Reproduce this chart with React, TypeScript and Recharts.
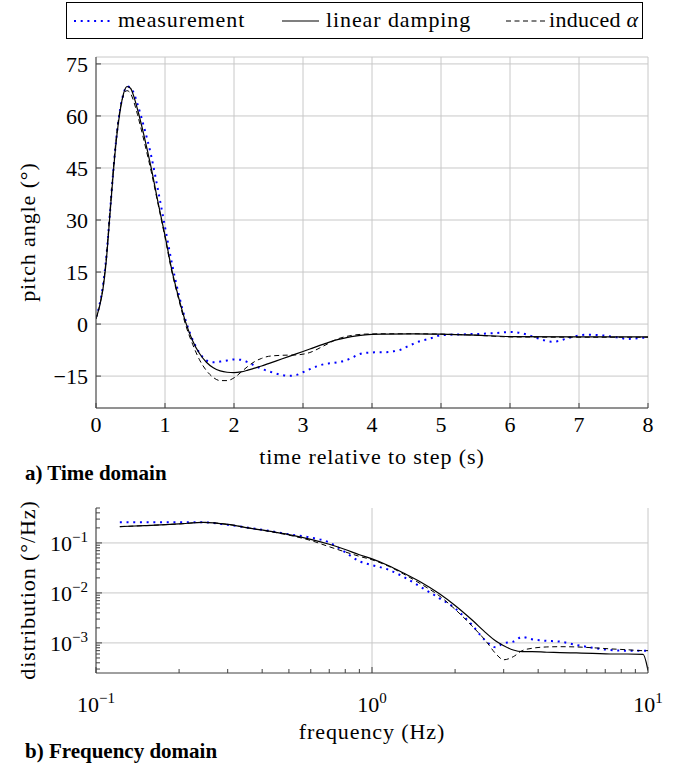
import React from "react";
import { LineChart, Line, XAxis, YAxis, CartesianGrid } from "recharts";

const FONT = '"Liberation Serif", "Times New Roman", serif';
const FRAME = "#404040";
const GRID = "#c8c8c8";
const BLUE = "#0000ff";

// a) time domain
const timeTicks = [0, 1, 2, 3, 4, 5, 6, 7, 8];
const pitchTicks = [-15, 0, 15, 30, 45, 60, 75];

const measTime = [
  0, 0.05, 0.1, 0.15, 0.2, 0.25, 0.3, 0.35, 0.4, 0.45, 0.5, 0.55, 0.6,
  0.7, 0.8, 0.9, 1.0, 1.1, 1.2, 1.3, 1.4, 1.5, 1.6, 1.7, 1.8, 1.9, 2.0,
  2.1, 2.2, 2.3, 2.4, 2.5, 2.6, 2.7, 2.8, 2.9, 3.0, 3.1, 3.2, 3.3, 3.4,
  3.5, 3.6, 3.7, 3.8, 3.9, 4.0, 4.1, 4.2, 4.3, 4.4, 4.5, 4.6, 4.7, 4.8,
  4.9, 5.0, 5.1, 5.2, 5.3, 5.4, 5.5, 5.6, 5.7, 5.8, 5.9, 6.0, 6.1, 6.2,
  6.3, 6.4, 6.5, 6.6, 6.7, 6.8, 6.9, 7.0, 7.1, 7.2, 7.3, 7.4, 7.5, 7.6,
  7.7, 7.8, 7.9, 8.0,
];
const measPitch = [
  2, 5.5, 11, 19.5, 31.5, 44, 54.5, 62, 66.5, 68.5, 68.2, 66.5, 63.5,
  56.5, 48.5, 38.5, 28, 17.5, 8.5, 1, -4.5, -8.3, -10.5, -11, -10.8, -10.5, -10.2,
  -10.3, -11.0, -12.0, -12.9, -13.6, -14.2, -14.7, -14.9, -14.7, -13.9, -13.0, -12.2, -11.6, -11.3,
  -11.0, -10.6, -9.8, -8.8, -8.3, -8.2, -8.1, -8.1, -7.9, -7.5, -6.6, -5.7, -4.9, -4.4,
  -3.8, -3.2, -3.1, -3.0, -3.0, -2.9, -2.9, -2.8, -2.7, -2.6, -2.4, -2.3, -2.4, -2.8,
  -3.4, -4.1, -4.7, -5.1, -4.9, -4.3, -3.7, -3.3, -3.1, -3.1, -3.2, -3.4, -3.7, -4.0,
  -4.3, -4.2, -4.0, -3.9,
];

const modelTime = [
  0, 0.05, 0.1, 0.15, 0.2, 0.25, 0.3, 0.35, 0.4, 0.45, 0.5, 0.55, 0.6,
  0.7, 0.8, 0.9, 1.0, 1.1, 1.2, 1.3, 1.4, 1.5, 1.6, 1.7, 1.8, 1.9, 2.0,
  2.1, 2.2, 2.3, 2.4, 2.5, 2.7, 2.9, 3.1, 3.3, 3.5, 3.7, 3.9,
  4.2, 4.6, 5.0, 5.5, 6.0, 7.0, 8.0,
];
const linearPitch = [
  1.5, 5, 10, 18.5, 31, 43.5, 54, 61.5, 66.5, 68.5, 68, 65.5, 62,
  54, 45, 35, 25.5, 15.5, 7.5, 0.5, -4.8, -8.5, -11, -12.6, -13.5, -13.9, -14.0,
  -13.8, -13.3, -12.7, -12.1, -11.4, -10.0, -8.6, -7.2, -5.8, -4.5, -3.6, -3.1,
  -2.9, -2.8, -2.9, -3.2, -3.6, -3.7, -3.7,
];
const inducedPitch = [
  1.5, 5, 10.5, 19.5, 32, 44.5, 55, 62, 66, 67.3, 66.5, 64, 60.5,
  52.5, 44, 34.5, 25, 15, 7, -0.3, -5.8, -10.3, -13.4, -15.4, -16.3, -16.3, -15.5,
  -13.9, -12.2, -10.8, -9.9, -9.3, -9.0, -8.9, -8.2, -6.3, -4.3, -3.3, -2.9,
  -2.8, -2.8, -2.9, -3.2, -3.7, -3.8, -3.8,
];

// b) frequency domain
const freqMajor = [0.1, 1, 10];
const freqMinor = [0.2, 0.3, 0.4, 0.5, 0.6, 0.7, 0.8, 0.9, 2, 3, 4, 5, 6, 7, 8, 9];
const distMajor = [0.001, 0.01, 0.1];
const distMinor = [
  0.0003, 0.0004, 0.0005, 0.0006, 0.0007, 0.0008, 0.0009,
  0.002, 0.003, 0.004, 0.005, 0.006, 0.007, 0.008, 0.009,
  0.02, 0.03, 0.04, 0.05, 0.06, 0.07, 0.08, 0.09,
  0.2, 0.3, 0.4, 0.5,
];

const freq = [
  0.122, 0.15, 0.2, 0.245, 0.3, 0.36, 0.43, 0.5, 0.6, 0.7, 0.8, 0.9, 1.0,
  1.15, 1.3, 1.5, 1.75, 2.0, 2.3, 2.6, 2.8, 3.0, 3.25, 3.5, 3.8, 4.3, 4.8,
  5.5, 6.3, 7.3, 8.4, 9.6, 10,
];
const measDist = [
  0.26, 0.26, 0.26, 0.258, 0.23, 0.2, 0.172, 0.148, 0.128, 0.102, 0.065, 0.043, 0.036,
  0.029, 0.021, 0.0132, 0.0079, 0.0049, 0.0023, 0.00106, 0.00082, 0.00099, 0.00106, 0.00132, 0.00118, 0.0011, 0.00106,
  0.00091, 0.0008, 0.00072, 0.0007, 0.0007, 0.0007,
];
const linearDist = [
  0.212, 0.222, 0.24, 0.258, 0.235, 0.198, 0.17, 0.147, 0.118, 0.094, 0.074, 0.058, 0.048,
  0.035, 0.025, 0.0165, 0.0097, 0.0056, 0.0029, 0.00155, 0.0011, 0.00088, 0.00072, 0.00067, 0.00067, 0.00065, 0.00064,
  0.00063, 0.00062, 0.0006, 0.0006, 0.00059, 0.00028,
];
const inducedDist = [
  0.212, 0.222, 0.24, 0.258, 0.235, 0.198, 0.168, 0.143, 0.112, 0.084, 0.066, 0.054, 0.046,
  0.034, 0.024, 0.0152, 0.0088, 0.0047, 0.0022, 0.00105, 0.00062, 0.00046, 0.00053, 0.0007, 0.00078, 0.00083, 0.00084,
  0.00083, 0.0008, 0.00076, 0.00073, 0.0007, 0.0007,
];

const zip = (xs: number[], ys: number[]) => xs.map((x, i) => ({ x, y: ys[i] }));

const isDecade = (v: number) => Math.abs(Math.log10(v) - Math.round(Math.log10(v))) < 1e-6;
const expText = (v: number) => {
  const e = Math.round(Math.log10(v));
  return e < 0 ? `\u2212${-e}` : `${e}`;
};

function LogTick(props: any) {
  const { x, y, payload, side } = props;
  const v = payload.value;
  const major = isDecade(v);
  const len = major ? 6 : 4;
  let mark;
  if (side === "bottom") mark = <line x1={x} x2={x} y1={y} y2={y - len} stroke={FRAME} />;
  else if (side === "top") mark = <line x1={x} x2={x} y1={y} y2={y + len} stroke={FRAME} />;
  else if (side === "left") mark = <line x1={x} x2={x + len} y1={y} y2={y} stroke={FRAME} />;
  else mark = <line x1={x} x2={x - len} y1={y} y2={y} stroke={FRAME} />;
  let label = null;
  if (major && side === "bottom") {
    label = (
      <text x={x} y={y + 39} textAnchor="middle" fontFamily={FONT} fontSize={22} fill="#000">
        10<tspan dy={-9} fontSize={15}>{expText(v)}</tspan>
      </text>
    );
  } else if (major && side === "left") {
    label = (
      <text x={x - 8} y={y + 8} textAnchor="end" fontFamily={FONT} fontSize={22} fill="#000">
        10<tspan dy={-9} fontSize={15}>{expText(v)}</tspan>
      </text>
    );
  }
  return (
    <g>
      {mark}
      {label}
    </g>
  );
}

const tickStyle = { fill: "#000", fontSize: 22, fontFamily: FONT };

export default function App() {
  const freqTicks = [...freqMajor, ...freqMinor].sort((a, b) => a - b);
  const distTicks = [...distMajor, ...distMinor].sort((a, b) => a - b);

  return (
    <div style={{ position: "absolute", left: 0, top: 0, width: 680, height: 767, background: "#fff", fontFamily: FONT }}>
      {/* legend */}
      <div
        style={{
          position: "absolute", left: 66, top: 2, width: 577, height: 37,
          boxSizing: "border-box", border: "1px solid #000", fontSize: 22, letterSpacing: 0.9,
          whiteSpace: "nowrap",
        }}
      >
        <svg style={{ position: "absolute", left: 6, top: 0 }} width={40} height={36}>
          <line x1={1} x2={38} y1={18} y2={18} stroke={BLUE} strokeWidth={2} strokeDasharray="2 4.7" />
        </svg>
        <span style={{ position: "absolute", left: 51, top: 4 }}>measurement</span>
        <svg style={{ position: "absolute", left: 214, top: 0 }} width={40} height={36}>
          <line x1={1} x2={38} y1={18} y2={18} stroke="#000" strokeWidth={1.2} />
        </svg>
        <span style={{ position: "absolute", left: 259, top: 4 }}>linear damping</span>
        <svg style={{ position: "absolute", left: 438, top: 0 }} width={42} height={36}>
          <line x1={1} x2={40} y1={18} y2={18} stroke="#000" strokeWidth={1} strokeDasharray="5 3.5" />
        </svg>
        <span style={{ position: "absolute", left: 482, top: 4, letterSpacing: 0.3 }}>
          induced <i>α</i>
        </span>
      </div>

      {/* a) time domain */}
      <div style={{ position: "absolute", left: 0, top: 0 }}>
        <LineChart width={680} height={470} margin={{ top: 57, right: 32, bottom: 32, left: 36 }}>
          <CartesianGrid stroke={GRID} strokeWidth={1} />
          <XAxis
            dataKey="x" type="number" domain={[0, 8]} ticks={timeTicks} allowDataOverflow interval={0}
            height={30} tickSize={-5} tickMargin={13} tick={tickStyle}
            axisLine={{ stroke: FRAME }} tickLine={{ stroke: FRAME }}
            label={{
              content: () => (
                <text x={372} y={464} textAnchor="middle" fontFamily={FONT} fontSize={22} letterSpacing={0.9} fill="#000">
                  time relative to step (s)
                </text>
              ),
            }}
          />
          <XAxis
            xAxisId="top" orientation="top" type="number" domain={[0, 8]} ticks={timeTicks} allowDataOverflow
            interval={0} height={0} tickSize={-5} tick={false}
            axisLine={{ stroke: FRAME }} tickLine={{ stroke: FRAME }}
          />
          <YAxis
            dataKey="y" type="number" domain={[-24.2, 77]} ticks={pitchTicks} allowDataOverflow interval={0}
            width={60} tickSize={-5} tickMargin={13} tick={tickStyle}
            tickFormatter={(v: number) => (v < 0 ? `\u2212${-v}` : `${v}`)}
            axisLine={{ stroke: FRAME }} tickLine={{ stroke: FRAME }}
            label={{
              content: () => (
                <text
                  x={27} y={232} transform="rotate(-90 27 232)" textAnchor="middle" dominantBaseline="central"
                  fontFamily={FONT} fontSize={22} letterSpacing={0.9} fill="#000"
                >
                  pitch angle (°)
                </text>
              ),
            }}
          />
          <YAxis
            yAxisId="right" orientation="right" type="number" domain={[-24.2, 77]} ticks={pitchTicks}
            allowDataOverflow interval={0} width={0} tickSize={-5} tick={false}
            axisLine={{ stroke: FRAME }} tickLine={{ stroke: FRAME }}
          />
          <Line
            data={zip(measTime, measPitch)} dataKey="y" type="monotone" stroke={BLUE} strokeWidth={2}
            strokeDasharray="2 4.7" dot={false} isAnimationActive={false}
          />
          <Line
            data={zip(modelTime, linearPitch)} dataKey="y" type="monotone" stroke="#000" strokeWidth={1.2}
            dot={false} isAnimationActive={false}
          />
          <Line
            data={zip(modelTime, inducedPitch)} dataKey="y" type="monotone" stroke="#000" strokeWidth={1}
            strokeDasharray="5 3.5" dot={false} isAnimationActive={false}
          />
        </LineChart>
      </div>
      <div style={{ position: "absolute", left: 25, top: 460, fontWeight: "bold", fontSize: 21, lineHeight: "26px" }}>
        a) Time domain
      </div>

      {/* b) frequency domain */}
      <div style={{ position: "absolute", left: 0, top: 470 }}>
        <LineChart width={680} height={297} margin={{ top: 38, right: 32, bottom: 64, left: 36 }}>
          <CartesianGrid stroke={GRID} strokeWidth={1} verticalValues={freqMajor} horizontalValues={distMajor} />
          <XAxis
            dataKey="x" type="number" scale="log" domain={[0.1, 10]} ticks={freqTicks} allowDataOverflow interval={0}
            height={30} tickSize={0} tickMargin={0} tickLine={false} tick={<LogTick side="bottom" />}
            axisLine={{ stroke: FRAME }}
            label={{
              content: () => (
                <text x={372} y={269} textAnchor="middle" fontFamily={FONT} fontSize={22} letterSpacing={0.9} fill="#000">
                  frequency (Hz)
                </text>
              ),
            }}
          />
          <XAxis
            xAxisId="top" orientation="top" type="number" scale="log" domain={[0.1, 10]} ticks={freqTicks}
            allowDataOverflow interval={0} height={0} tickSize={0} tickMargin={0} tickLine={false}
            tick={<LogTick side="top" />} axisLine={{ stroke: FRAME }}
          />
          <YAxis
            dataKey="y" type="number" scale="log" domain={[0.00025, 0.5]} ticks={distTicks} allowDataOverflow
            interval={0} width={60} tickSize={0} tickMargin={0} tickLine={false} tick={<LogTick side="left" />}
            axisLine={{ stroke: FRAME }}
            label={{
              content: () => (
                <text
                  x={27} y={120} transform="rotate(-90 27 120)" textAnchor="middle" dominantBaseline="central"
                  fontFamily={FONT} fontSize={22} letterSpacing={0.9} fill="#000"
                >
                  distribution (°/Hz)
                </text>
              ),
            }}
          />
          <YAxis
            yAxisId="right" orientation="right" type="number" scale="log" domain={[0.00025, 0.5]} ticks={distTicks}
            allowDataOverflow interval={0} width={0} tickSize={0} tickMargin={0} tickLine={false}
            tick={<LogTick side="right" />} axisLine={{ stroke: FRAME }}
          />
          <Line
            data={zip(freq, measDist)} dataKey="y" type="monotone" stroke={BLUE} strokeWidth={2}
            strokeDasharray="2 4.7" dot={false} isAnimationActive={false}
          />
          <Line
            data={zip(freq, linearDist)} dataKey="y" type="monotone" stroke="#000" strokeWidth={1.2}
            dot={false} isAnimationActive={false}
          />
          <Line
            data={zip(freq, inducedDist)} dataKey="y" type="monotone" stroke="#000" strokeWidth={1}
            strokeDasharray="5 3.5" dot={false} isAnimationActive={false}
          />
        </LineChart>
      </div>
      <div style={{ position: "absolute", left: 25, top: 738, fontWeight: "bold", fontSize: 21, lineHeight: "26px" }}>
        b) Frequency domain
      </div>
    </div>
  );
}
